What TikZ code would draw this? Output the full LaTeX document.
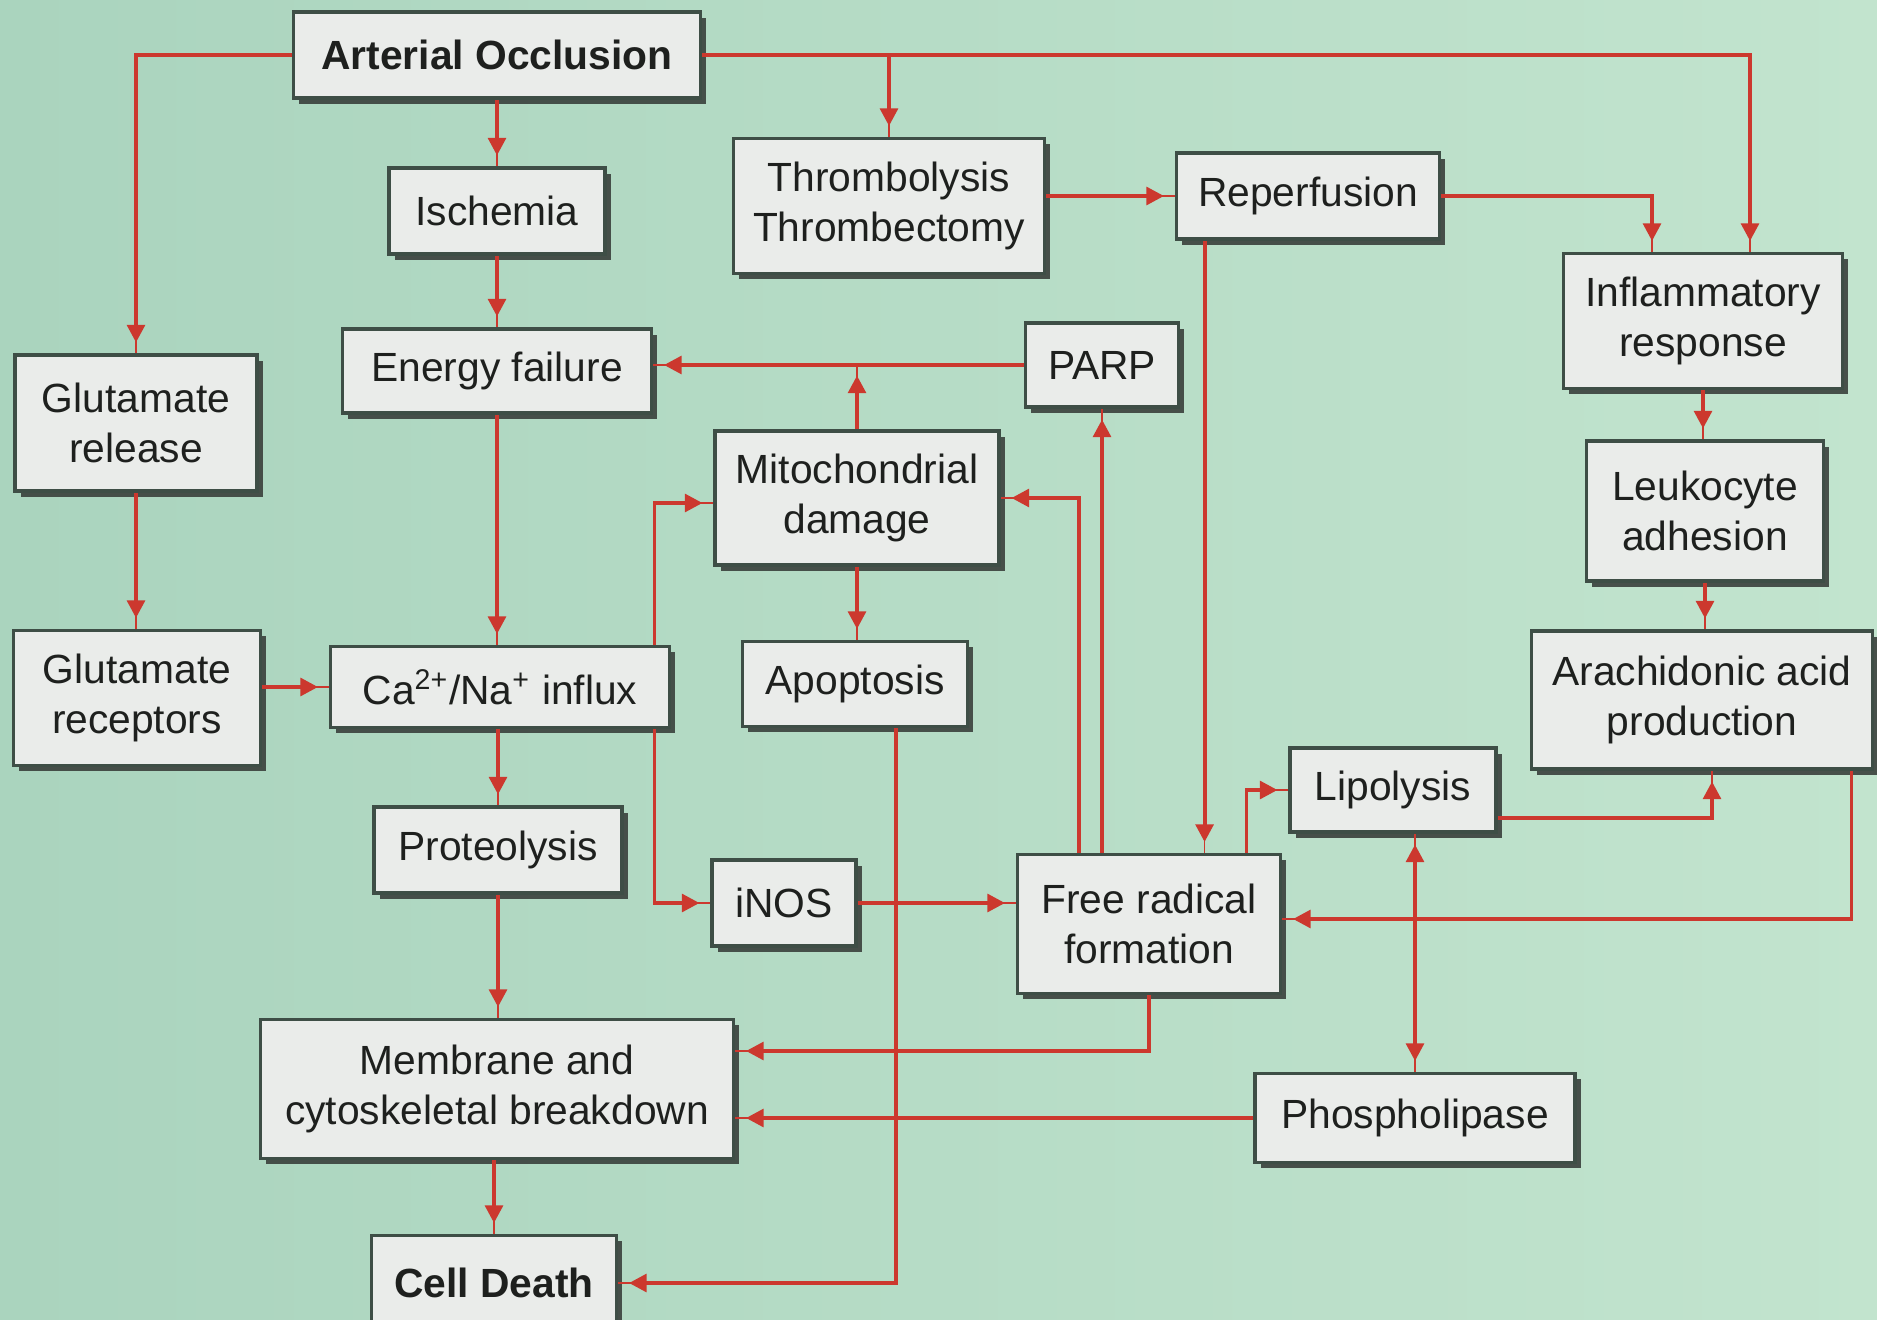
\documentclass[tikz,border=0pt]{standalone}
\usepackage{fontspec}
\setsansfont{Liberation Sans}
\usepackage{tikz}
\usetikzlibrary{positioning}
\usetikzlibrary{arrows.meta, shadows, calc}
\definecolor{bgleft}{RGB}{170,212,190}
\definecolor{bgright}{RGB}{194,228,206}
\definecolor{boxfill}{RGB}{234,236,234}
\definecolor{boxline}{RGB}{62,78,70}
\definecolor{shade}{RGB}{58,64,60}
\definecolor{linered}{RGB}{204,56,46}
\definecolor{ink}{RGB}{30,32,30}
\tikzstyle{box} = [rectangle, draw=boxline, line width=1.1pt, fill=boxfill, align=center, inner sep=0pt, text=ink, font=\sffamily\fontsize{11.6}{14.2}\selectfont, drop shadow={shadow xshift=1.6pt, shadow yshift=-1.6pt, fill=shade, opacity=0.9}]
\tikzstyle{flow} = [draw=linered, line width=1.1pt, -{Triangle[length=5pt,width=5pt]}, shorten >=3pt, preaction={draw=linered, -, shorten >=0pt}]
\tikzstyle{flowboth} = [draw=linered, line width=1.1pt, {Triangle[length=5pt,width=5pt]}-{Triangle[length=5pt,width=5pt]}, shorten >=3pt, shorten <=3pt, preaction={draw=linered, -, shorten >=0pt, shorten <=0pt}]

\begin{document}
\begin{tikzpicture}
        \useasboundingbox (0,0) rectangle (18.77,-13.20);
        \shade[left color=bgleft, right color=bgright] (0,0) rectangle (18.77,-13.20);

        \node[box, font=\sffamily\bfseries\fontsize{11.6}{14.2}\selectfont, minimum width=4.07cm, minimum height=0.86cm] (AO) at (4.97,-0.55) {Arterial Occlusion};
        \node[box, minimum width=2.16cm, minimum height=0.86cm] (Isch) at (4.97,-2.11) {Ischemia};
        \node[box, minimum width=3.11cm, minimum height=1.35cm] (Thromb) at (8.89,-2.06) {Thrombolysis\\Thrombectomy};
        \node[box, minimum width=2.63cm, minimum height=0.86cm] (Rep) at (13.08,-1.96) {Reperfusion};
        \node[box, minimum width=2.79cm, minimum height=1.35cm] (Infl) at (17.03,-3.21) {Inflammatory\\response};
        \node[box, minimum width=2.42cm, minimum height=1.36cm] (GluRel) at (1.36,-4.23) {Glutamate\\release};
        \node[box, minimum width=3.09cm, minimum height=0.84cm] (EF) at (4.97,-3.71) {Energy failure};
        \node[box, minimum width=1.53cm, minimum height=0.84cm] (PARP) at (11.02,-3.65) {PARP};
        \node[box, minimum width=2.84cm, minimum height=1.34cm] (Mito) at (8.57,-4.98) {Mitochondrial\\damage};
        \node[box, minimum width=2.37cm, minimum height=1.40cm] (Leuko) at (17.05,-5.11) {Leukocyte\\adhesion};
        \node[box, minimum width=2.47cm, minimum height=1.35cm] (GluRec) at (1.37,-6.98) {Glutamate\\receptors};
        \node[box, minimum width=3.39cm, minimum height=0.81cm] (Ca) at (5.00,-6.87) {Ca\textsuperscript{2+}/Na\textsuperscript{+} influx};
        \node[box, minimum width=2.25cm, minimum height=0.85cm] (Apop) at (8.55,-6.84) {Apoptosis};
        \node[box, minimum width=3.41cm, minimum height=1.38cm] (Arach) at (17.02,-7.00) {Arachidonic acid\\production};
        \node[box, minimum width=2.06cm, minimum height=0.84cm] (Lipo) at (13.93,-7.90) {Lipolysis};
        \node[box, minimum width=2.48cm, minimum height=0.86cm] (Prot) at (4.98,-8.50) {Proteolysis};
        \node[box, minimum width=1.44cm, minimum height=0.86cm] (iNOS) at (7.84,-9.03) {iNOS};
        \node[box, minimum width=2.63cm, minimum height=1.39cm] (FR) at (11.49,-9.24) {Free radical\\formation};
        \node[box, minimum width=4.73cm, minimum height=1.39cm] (Memb) at (4.97,-10.89) {Membrane and\\cytoskeletal breakdown};
        \node[box, minimum width=3.20cm, minimum height=0.89cm] (Phos) at (14.15,-11.18) {Phospholipase};
        \node[box, font=\sffamily\bfseries\fontsize{11.6}{14.2}\selectfont, minimum width=2.45cm, minimum height=0.95cm] (CD) at (4.94,-12.83) {Cell Death};

        % top row
        \draw[flow] (AO.west) -| (GluRel.north);
        \draw[flow] (AO.south) -- (AO.south |- Isch.north);
        \draw[flow] (AO.east) -| ([xshift=0.47cm]Infl.north);
        \draw[flow] (AO.east -| Thromb.north) -- (Thromb.north);
        \draw[flow] (Rep.west -| Thromb.east) -- (Rep.west);
        \draw[flow] (Rep.east) -| ([xshift=-0.51cm]Infl.north);
        \draw[flow] ([xshift=0.3cm]Rep.south west) -- ([xshift=0.3cm]Rep.south west |- FR.north);

        % left column
        \draw[flow] (Isch.south) -- (Isch.south |- EF.north);
        \draw[flow] (EF.south) -- (EF.south |- Ca.north);
        \draw[flow] (GluRel.south) -- (GluRel.south |- GluRec.north);
        \draw[flow] (GluRec.east |- Ca.west) -- (Ca.west);
        \draw[flow] (Prot.north |- Ca.south) -- (Prot.north);
        \draw[flow] (Prot.south) -- (Prot.south |- Memb.north);
        \draw[flow] (Memb.south -| CD.north) -- (CD.north);

        % middle
        \draw[flow] (PARP.west) -- (PARP.west -| EF.east);
        \draw[flow] (Mito.north) -- (Mito.north |- PARP.west);
        \draw[flow] (Mito.south) -- (Mito.south |- Apop.north);
        \draw[flow] ([xshift=-0.17cm]Ca.north east) |- ([yshift=-0.05cm]Mito.west);
        \draw[flow] ([xshift=-0.17cm]Ca.south east) |- (iNOS.west);
        \draw[flow] (iNOS.east) -- (iNOS.east -| FR.west);
        \draw[flow] ([xshift=0.41cm]Apop.south) |- (CD.east);
        \draw[flow] ([xshift=0.63cm]FR.north west) |- (Mito.east);
        \draw[flow] (FR.north -| PARP.south) -- (PARP.south);
        \draw[flow] (FR.south) |- ([yshift=0.38cm]Memb.east);
        \draw[flow] (Phos.west) -- (Phos.west -| Memb.east);

        % right side
        \draw[flow] (Infl.south) -- (Infl.south |- Leuko.north);
        \draw[flow] (Leuko.south) -- (Leuko.south |- Arach.north);
        \draw[flow] ([xshift=-0.36cm]FR.north east) |- (Lipo.west);
        \draw[flow] ([yshift=-0.28cm]Lipo.east) -| ([xshift=0.1cm]Arach.south);
        \draw[flow] ([xshift=-0.23cm]Arach.south east) |- ([yshift=0.05cm]FR.east);
        \draw[flowboth] (Lipo.south -| Phos.north) -- (Phos.north);
    \end{tikzpicture}
\end{document}
